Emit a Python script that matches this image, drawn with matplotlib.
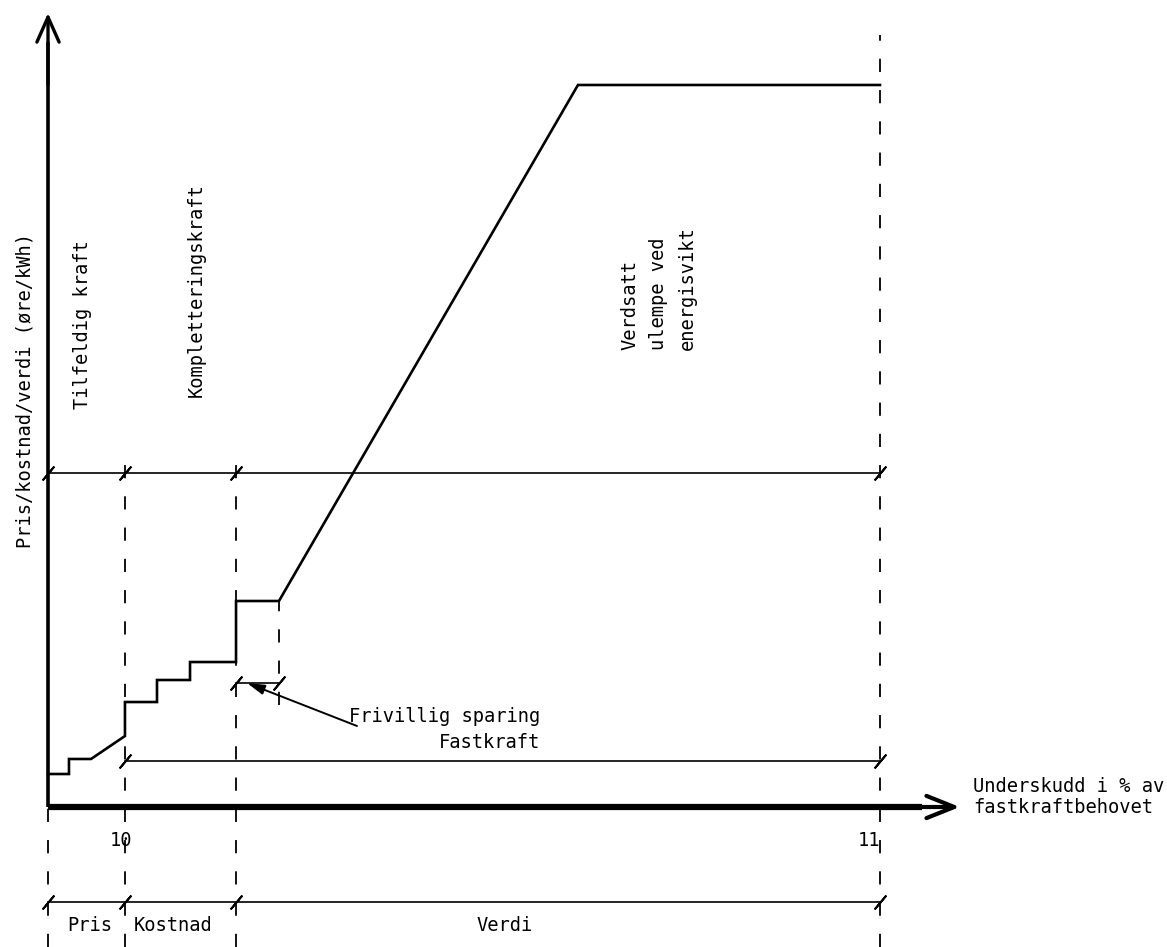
import matplotlib
matplotlib.use("Agg")
import matplotlib.pyplot as plt

plt.rcParams['font.family'] = ['DejaVu Sans Mono', 'DejaVu Sans']

# ---- data (schematic units: x = share of span, y = price level, 100 = ceiling) ----
curve_x = [0, 2.52, 2.52, 5.17, 9.25, 9.25, 13.10, 13.10, 17.07, 17.07, 22.60, 22.60, 27.76, 63.70, 100]
curve_y = [4.57, 4.57, 6.65, 6.65, 9.83, 14.54, 14.54, 17.59, 17.59, 20.08, 20.08, 28.53, 28.53, 100, 100]

boundary_x = [0, 9.25, 22.60, 27.76, 100]
boundary_y0 = [-19.39, -19.39, -19.39, 14.13, -19.39]
boundary_y1 = [0, 48.75, 48.75, 28.53, 106.93]

dim_levels = [46.26, 6.37, 17.17, -13.16]
dim_starts = [0, 9.25, 22.60, 0]
dim_ends = [100, 100, 27.76, 100]
dim_ticks = [[0, 9.25, 22.60, 100], [9.25, 100], [22.60, 27.76], [0, 9.25, 22.60, 100]]

tick_labels = ["10", "11"]
tick_label_x = [8.77, 98.68]

segment_labels = ["Pris", "Kostnad", "Verdi"]
segment_label_x = [2.28, 10.34, 51.56]

zone_labels = ["Tilfeldig kraft", "Kompletteringskraft"]
zone_label_x = [4.09, 17.79]
zone_label_y = [66.76, 71.61]

verdsatt_lines = ["Verdsatt", "ulempe ved", "energisvikt"]
verdsatt_x = [70.0, 73.4, 76.8]

ylabel = "Pris/kostnad/verdi (øre/kWh)"
xlabel_lines = ["Underskudd i % av", "fastkraftbehovet"]
note_lines = ["Frivillig sparing", "Fastkraft"]

# ---- figure ----
fig = plt.figure(figsize=(11.67, 9.47), dpi=100)
ax = fig.add_axes([0, 0, 1, 1])
ax.set_xlim(-5.77, 134.50)
ax.set_ylim(-19.39, 111.77)
ax.axis('off')

FS = 13.5
K = 'black'

# axes with arrows
ax.plot([0, 105], [0, 0], color=K, lw=4.5, solid_capstyle='butt')
ax.annotate('', xy=(109.6, 0), xytext=(100, 0),
            arrowprops=dict(arrowstyle='->,head_length=1.0,head_width=0.4',
                            lw=3.0, color=K, shrinkA=0, shrinkB=0, mutation_scale=20))
ax.plot([0, 0], [0, 106], color=K, lw=2.6, solid_capstyle='butt')
ax.annotate('', xy=(0, 109.97), xytext=(0, 100),
            arrowprops=dict(arrowstyle='->,head_length=0.9,head_width=0.4',
                            lw=2.4, color=K, shrinkA=0, shrinkB=0, mutation_scale=20))

# main curve
ax.plot(curve_x, curve_y, color=K, lw=1.9, solid_joinstyle='miter')

# dashed boundaries
lw_d = 1.3
for x, y0, y1 in zip(boundary_x, boundary_y0, boundary_y1):
    ax.plot([x, x], [y0, y1], color=K, lw=lw_d,
            linestyle=(0, (9.5 / lw_d, 13.0 / lw_d)))

# dimension lines with slanted ticks
for lvl, a, b, ticks in zip(dim_levels, dim_starts, dim_ends, dim_ticks):
    ax.plot([a, b], [lvl, lvl], color=K, lw=1.2)
    ax.plot(ticks, [lvl] * len(ticks), linestyle='none', marker=(2, 2, -40),
            markersize=13, markeredgewidth=1.4, color=K)

# leader for "Frivillig sparing"
ax.annotate('', xy=(23.92, 17.17), xytext=(37.14, 11.22),
            arrowprops=dict(arrowstyle='-|>,head_length=0.7,head_width=0.2',
                            lw=1.4, color=K, shrinkA=0, shrinkB=0, mutation_scale=15))
ax.text(59.13, 11.77, note_lines[0], fontsize=FS, ha='right', va='baseline')
ax.text(59.13, 8.17, note_lines[1], fontsize=FS, ha='right', va='baseline')

# tick labels under axis
for lab, x in zip(tick_labels, tick_label_x):
    ax.text(x, -5.4, lab, fontsize=FS, ha='center', va='baseline')

# segment labels at bottom
for lab, x in zip(segment_labels, segment_label_x):
    ax.text(x, -17.2, lab, fontsize=FS, ha='left', va='baseline')

# x-axis label
ax.text(111.2, 2.08, xlabel_lines[0], fontsize=FS, ha='left', va='baseline')
ax.text(111.2, -0.83, xlabel_lines[1], fontsize=FS, ha='left', va='baseline')

# y-axis label
ax.text(-2.76, 57.62, ylabel, fontsize=FS, rotation=90, ha='center', va='center')

# zone labels
for lab, x, y in zip(zone_labels, zone_label_x, zone_label_y):
    ax.text(x, y, lab, fontsize=FS, rotation=90, ha='center', va='center')

for lab, x in zip(verdsatt_lines, verdsatt_x):
    ax.text(x, 63.3, lab, fontsize=FS, rotation=90, ha='center', va='bottom')

fig.savefig('out.png', dpi=100, facecolor='white')
